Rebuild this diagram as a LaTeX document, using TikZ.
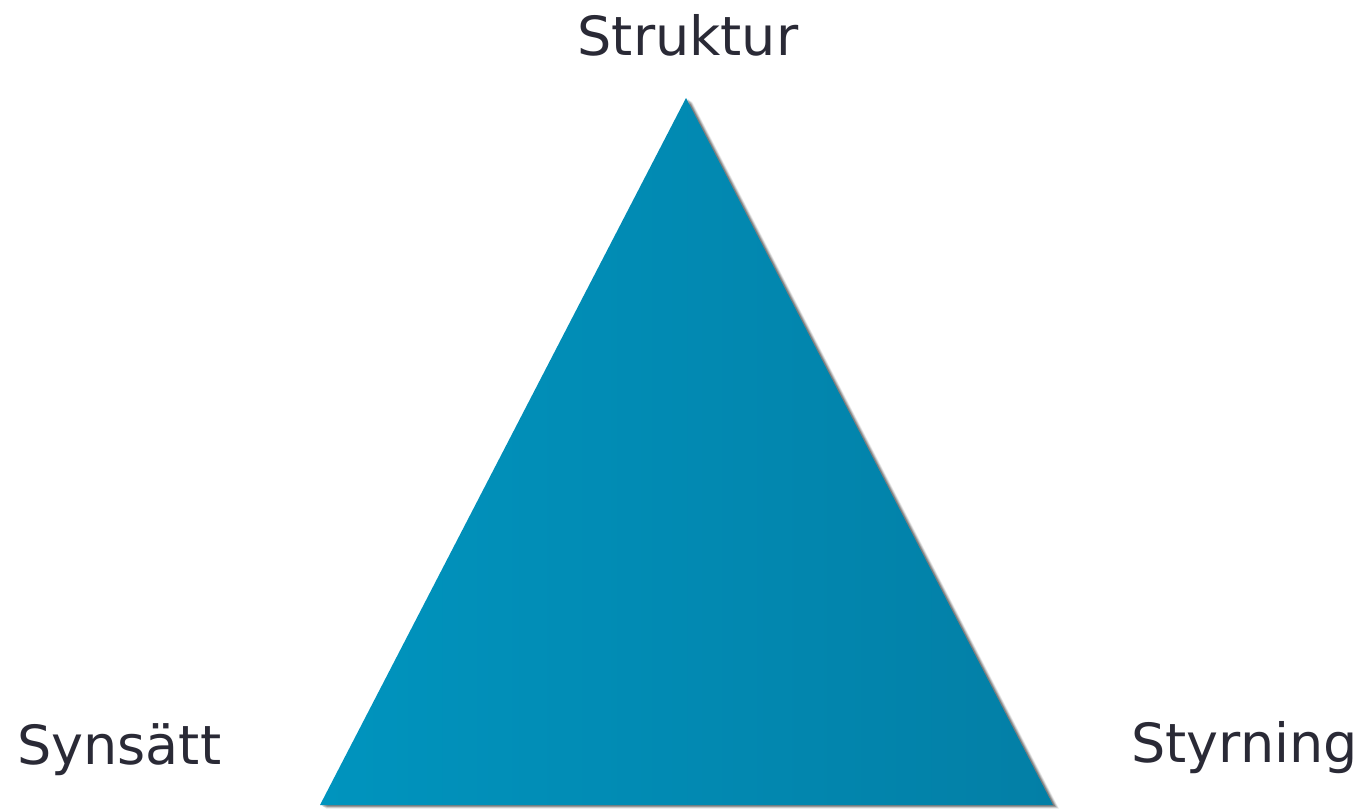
\documentclass[tikz,border=0pt]{standalone}
\usepackage{fontspec}
\setmainfont{DejaVu Sans}
\usepackage{xcolor}
\usepackage{tikz}
\definecolor{labelgray}{RGB}{42,42,54}
\definecolor{tealleft}{RGB}{0,148,190}
\definecolor{tealright}{RGB}{3,127,166}
\tikzset{
  corner/.style={inner sep=0pt, text=labelgray, font=\fontsize{54}{65}\selectfont},
}

\begin{document}
\begin{tikzpicture}[x=1pt,y=-1pt]
	\useasboundingbox (0,0) rectangle (1363,809);
	\coordinate (top) at (686,98);
	\coordinate (bl) at (320,805);
	\coordinate (br) at (1053,805);
	% shadow
	\foreach \d/\o in {6/0.08,5/0.10,4/0.12,3/0.15,2/0.2}
	  \fill[black, opacity=\o] ([shift={(\d,\d*0.6)}]top) -- ([shift={(\d,\d*0.6)}]br) -- ([shift={(\d,\d*0.6)}]bl) -- cycle;
	\shade[left color=tealleft, right color=tealright] (top) -- (br) -- (bl) -- cycle;
	\node[corner, anchor=base] (struktur) at (688,55) {Struktur};
	\node[corner, anchor=base west] (synsatt) at (17,764) {Synsätt};
	\node[corner, anchor=base east] (styrning) at (1358,762) {Styrning};
\end{tikzpicture}
\end{document}
